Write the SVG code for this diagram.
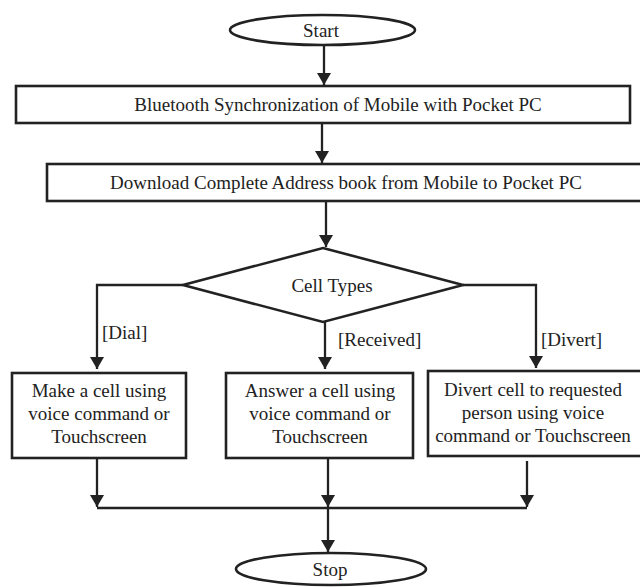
<svg xmlns="http://www.w3.org/2000/svg" width="640" height="587" viewBox="0 0 640 587">
  <style>
    .shape { fill: #fff; stroke: #222; stroke-width: 2.6; }
    .wire { fill: none; stroke: #222; stroke-width: 2.3; }
    text { font-family: "Liberation Serif", "Times New Roman", serif; font-size: 19px; fill: #222; text-anchor: middle; dominant-baseline: central; }
    .lbl { text-anchor: start; }
  </style>
  <defs>
    <marker id="arrow" markerWidth="13" markerHeight="14" refX="12" refY="7" orient="auto" markerUnits="userSpaceOnUse">
      <path d="M0,0 L12,7 L0,14 Z" fill="#222"/>
    </marker>
  </defs>

  <rect width="640" height="587" fill="#fff"/>

  <g id="connectors">
    <path class="wire" d="M324,45 V85" marker-end="url(#arrow)"/>
    <path class="wire" d="M322,123 V163" marker-end="url(#arrow)"/>
    <path class="wire" d="M326,201 V247" marker-end="url(#arrow)"/>
    <path class="wire" d="M183,285 H97 V369" marker-end="url(#arrow)"/>
    <path class="wire" d="M325,322 V369" marker-end="url(#arrow)"/>
    <path class="wire" d="M463,285 H536 V368" marker-end="url(#arrow)"/>
    <path class="wire" d="M97,458 V507" marker-end="url(#arrow)"/>
    <path class="wire" d="M328,458 V507" marker-end="url(#arrow)"/>
    <path class="wire" d="M527,461 V507" marker-end="url(#arrow)"/>
    <path class="wire" d="M97,508 H527"/>
    <path class="wire" d="M328,508 V552" marker-end="url(#arrow)"/>
    <text class="lbl" x="102" y="332">[Dial]</text>
    <text class="lbl" x="338" y="339">[Received]</text>
    <text class="lbl" x="541" y="339">[Divert]</text>
  </g>

  <g id="start">
    <ellipse class="shape" cx="322.5" cy="30" rx="92.5" ry="15"/>
    <text x="321" y="30">Start</text>
  </g>

  <g id="sync">
    <rect class="shape" x="16" y="86" width="614" height="37"/>
    <text x="338" y="104.5">Bluetooth Synchronization of Mobile with Pocket PC</text>
  </g>

  <g id="download">
    <rect class="shape" x="47" y="164" width="603" height="37"/>
    <text x="346" y="182">Download Complete Address book from Mobile to Pocket PC</text>
  </g>

  <g id="cell-types">
    <polygon class="shape" points="323,248 463,285 323,322 183,285"/>
    <text x="332" y="285">Cell Types</text>
  </g>

  <g id="dial">
    <rect class="shape" x="12" y="373" width="174" height="85"/>
    <text x="99" y="390">Make a cell using</text>
    <text x="99" y="413">voice command or</text>
    <text x="99" y="436">Touchscreen</text>
  </g>

  <g id="received">
    <rect class="shape" x="226" y="373" width="187" height="85"/>
    <text x="320" y="390">Answer a cell using</text>
    <text x="320" y="413">voice command or</text>
    <text x="320" y="436">Touchscreen</text>
  </g>

  <g id="divert">
    <rect class="shape" x="428" y="371" width="220" height="85"/>
    <text x="533" y="389">Divert cell to requested</text>
    <text x="533" y="412">person using voice</text>
    <text x="533" y="435">command or Touchscreen</text>
  </g>

  <g id="stop">
    <ellipse class="shape" cx="331" cy="569" rx="95" ry="16"/>
    <text x="330" y="569">Stop</text>
  </g>
</svg>
